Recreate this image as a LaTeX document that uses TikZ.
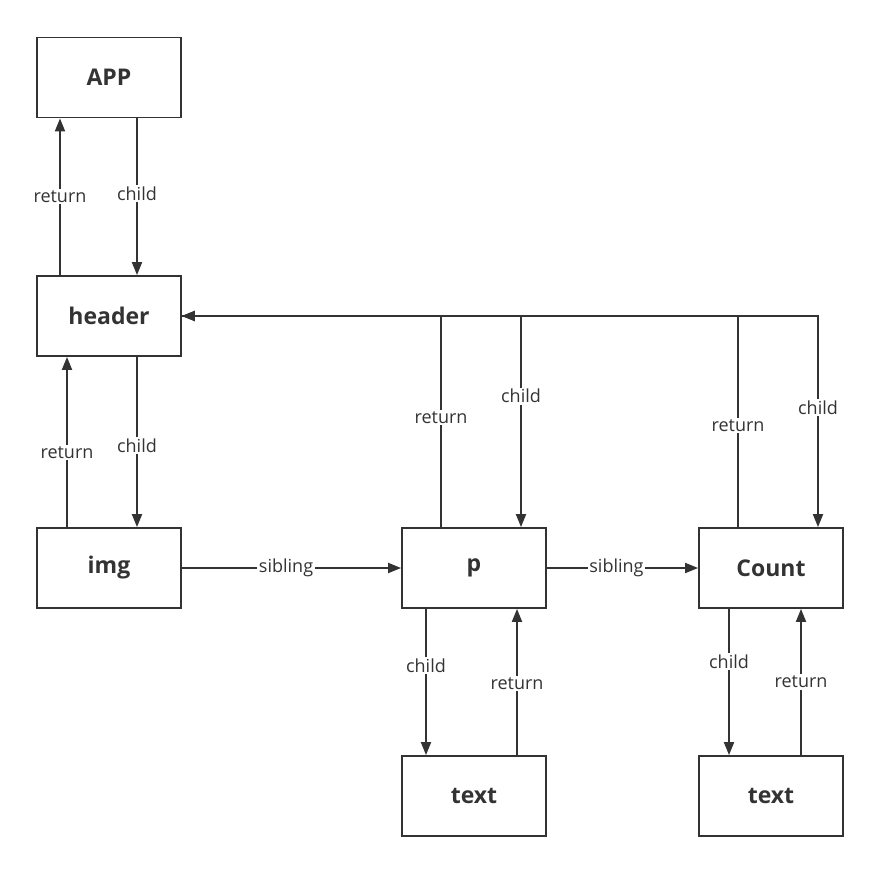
\documentclass[tikz,border=0pt]{standalone}
\usepackage{fontspec}
\setmainfont{Open Sans}
\usetikzlibrary{arrows.meta}
\definecolor{ink}{HTML}{333333}
\begin{document}
\begin{tikzpicture}[x=1pt,y=-1pt,>={Triangle[length=13pt,width=10pt]}]
        \tikzstyle{block}=[rectangle,draw=ink,line width=1.8pt,text=ink,minimum width=144pt,minimum height=80pt,font=\fontsize{23}{23}\selectfont\bfseries]
        \tikzstyle{edge}=[draw=ink,line width=1.9pt,->]
        \tikzstyle{lbl}=[fill=white,text=ink,inner sep=1.5pt,font=\fontsize{18}{18}\selectfont]
        \useasboundingbox (0,0) rectangle (880,874);
        % boxes
        \node [block] (app) at (109,77.5) {APP};
        \node [block] (header) at (109,316) {header};
        \node [block] (img) at (109,568) {img};
        \node [block] (p) at (474,568) {p};
        \node [block] (count) at (771,568) {Count};
        \node [block] (ptext) at (474,796) {text};
        \node [block] (ctext) at (771,796) {text};
        % app / header / img
        \draw[edge] ([xshift=28pt]app.south) -- node[lbl,pos=0.48] {child} ([xshift=28pt]header.north);
        \draw[edge] ([xshift=-49pt]header.north) -- node[lbl,pos=0.5] {return} ([xshift=-49pt]app.south);
        \draw[edge] ([xshift=28pt]header.south) -- node[lbl,pos=0.52] {child} ([xshift=28pt]img.north);
        \draw[edge] ([xshift=-42pt]img.north) -- node[lbl,pos=0.44] {return} ([xshift=-42pt]header.south);
        % siblings
        \draw[edge] (img.east) -- node[lbl,pos=0.475] {sibling} (p.west);
        \draw[edge] (p.east) -- node[lbl,pos=0.46] {sibling} (count.west);
        % back to header
        \draw[edge] (header.east) -| node[lbl,pos=0.717] {child} ([xshift=47pt]count.north);
        \draw[edge] ([xshift=-33pt]count.north) |- node[lbl,pos=0.24] {return} (header.east);
        \draw[edge] (header.east) -| node[lbl,pos=0.69] {child} ([xshift=47pt]p.north);
        \draw[edge] ([xshift=-33pt]p.north) |- node[lbl,pos=0.26] {return} (header.east);
        % text children
        \draw[edge] ([xshift=-48pt]p.south) -- node[lbl,pos=0.39] {child} ([xshift=-48pt]ptext.north);
        \draw[edge] ([xshift=43pt]ptext.north) -- node[lbl,pos=0.49] {return} ([xshift=43pt]p.south);
        \draw[edge] ([xshift=-42pt]count.south) -- node[lbl,pos=0.36] {child} ([xshift=-42pt]ctext.north);
        \draw[edge] ([xshift=30pt]ctext.north) -- node[lbl,pos=0.5] {return} ([xshift=30pt]count.south);
\end{tikzpicture}
\end{document}
